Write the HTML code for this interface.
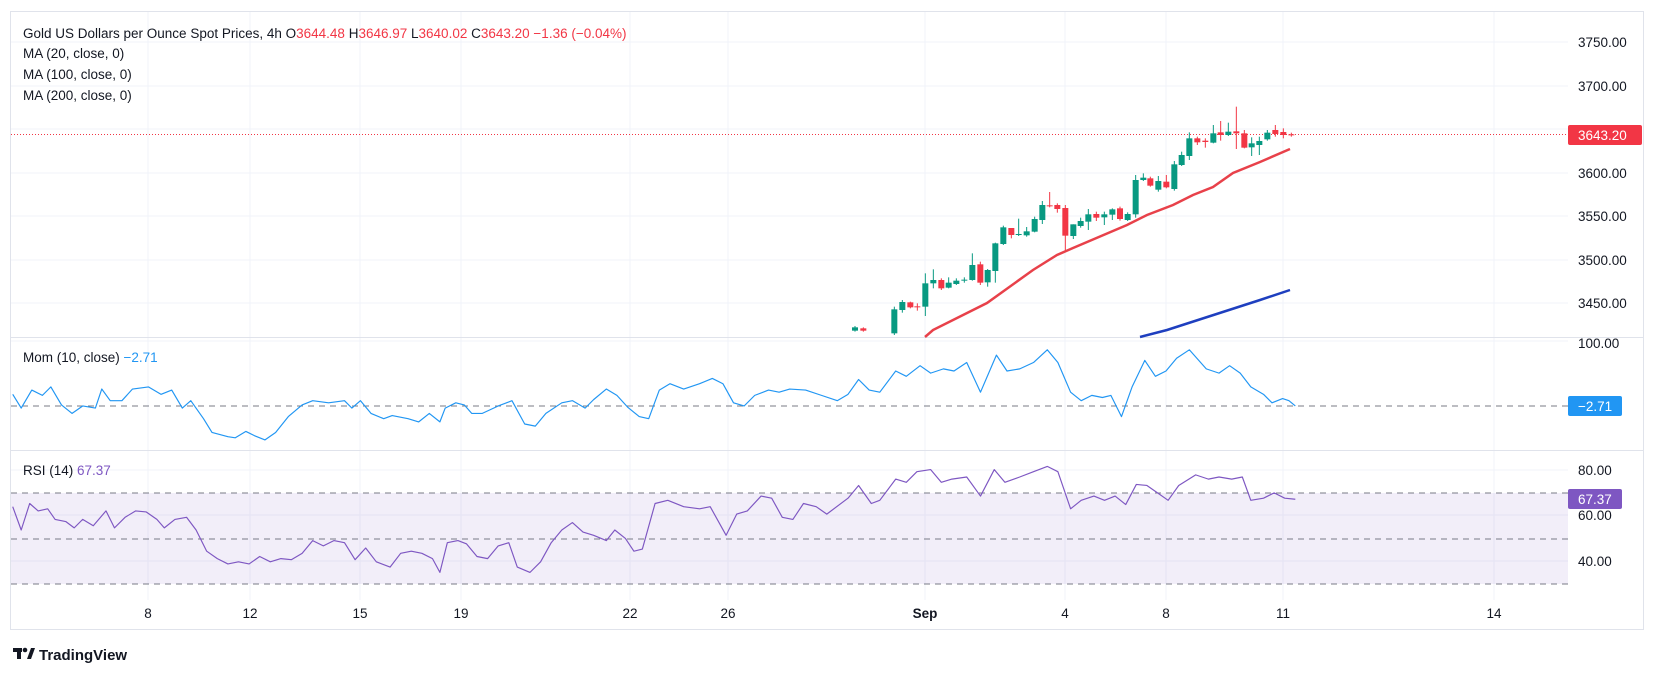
<!DOCTYPE html>
<html><head><meta charset="utf-8"><style>
html,body{margin:0;padding:0;background:#fff;width:1656px;height:674px;overflow:hidden}
svg{display:block;font-family:"Liberation Sans",sans-serif}
</style></head><body>
<svg id="s" width="1656" height="674" viewBox="0 0 1656 674">
<rect x="10.5" y="11.5" width="1633" height="618" fill="#fff" stroke="#e0e3eb"/>
<g stroke="#f0f3fa" stroke-width="1">
<line x1="11" x2="1568" y1="42" y2="42"/><line x1="11" x2="1568" y1="86" y2="86"/><line x1="11" x2="1568" y1="129" y2="129"/><line x1="11" x2="1568" y1="173" y2="173"/><line x1="11" x2="1568" y1="216" y2="216"/><line x1="11" x2="1568" y1="260" y2="260"/><line x1="11" x2="1568" y1="303" y2="303"/>
<line x1="11" x2="1568" y1="341" y2="341"/><line x1="11" x2="1568" y1="470" y2="470"/><line x1="11" x2="1568" y1="515" y2="515"/><line x1="11" x2="1568" y1="561" y2="561"/>
<g id="vg"></g>
</g>
<line x1="11" x2="1643" y1="337.5" y2="337.5" stroke="#e0e3eb"/>
<line x1="11" x2="1643" y1="450.5" y2="450.5" stroke="#e0e3eb"/>
<!-- RSI band -->
<rect x="11" y="493" width="1557" height="91" fill="#7e57c2" fill-opacity="0.1"/>
<g stroke="#787b86" stroke-dasharray="6,5" stroke-width="1">
<line x1="11" x2="1568" y1="493" y2="493"/><line x1="11" x2="1568" y1="539" y2="539"/><line x1="11" x2="1568" y1="584" y2="584"/>
<line x1="11" x2="1568" y1="406" y2="406"/>
</g>
<line x1="11" x2="1568" y1="134.5" y2="134.5" stroke="#f23645" stroke-dasharray="1,2" stroke-width="1"/>
<g id="candles"></g>
<polyline fill="none" stroke="#e8414a" stroke-width="2.5" points="925,337 933,330 987,303 1033,270 1057,255 1073,248 1127,225 1147,215 1173,205 1193,195 1213,187 1233,173 1260,162 1290,149"/>
<polyline fill="none" stroke="#1e3fbf" stroke-width="2.5" points="1140,337 1167,330 1260,300 1290,290"/>
<g transform="scale(1.06)" fill="none" stroke-linejoin="round">
<polyline id="mom" stroke="#2196f3" stroke-width="1.1" points=""/>
<polyline id="rsi" stroke="#7e57c2" stroke-width="1.1" points=""/>
</g>
<!-- clip main pane candles below bottom -->
<rect x="11" y="338" width="1557" height="0" fill="#fff"/>
<!-- text -->
<g font-size="13.5" fill="#131722">
<text x="23" y="38">Gold US Dollars per Ounce Spot Prices, 4h  <tspan>O</tspan><tspan fill="#f23645">3644.48</tspan>  H<tspan fill="#f23645">3646.97</tspan>  L<tspan fill="#f23645">3640.02</tspan>  C<tspan fill="#f23645">3643.20</tspan>  <tspan fill="#f23645">−1.36 (−0.04%)</tspan></text>
<text x="23" y="58">MA (20, close, 0)</text>
<text x="23" y="79">MA (100, close, 0)</text>
<text x="23" y="100">MA (200, close, 0)</text>
<text x="23" y="362">Mom (10, close)  <tspan fill="#2196f3">−2.71</tspan></text>
<text x="23" y="475">RSI (14)  <tspan fill="#7e57c2">67.37</tspan></text>
</g>
<g font-size="13.5" fill="#131722">
<text x="1578" y="47">3750.00</text><text x="1578" y="91">3700.00</text><text x="1578" y="178">3600.00</text><text x="1578" y="221">3550.00</text><text x="1578" y="265">3500.00</text><text x="1578" y="308">3450.00</text>
<text x="1578" y="348">100.00</text>
<text x="1578" y="475">80.00</text><text x="1578" y="520">60.00</text><text x="1578" y="566">40.00</text>
</g>
<rect x="1568" y="125" width="74" height="20" rx="2" fill="#f23645"/>
<text x="1578" y="140" font-size="13.5" fill="#fff">3643.20</text>
<rect x="1568" y="396" width="54" height="20" rx="2" fill="#2196f3"/>
<text x="1578" y="411" font-size="13.5" fill="#fff">−2.71</text>
<rect x="1568" y="489" width="54" height="20" rx="2" fill="#7e57c2"/>
<text x="1578" y="504" font-size="13.5" fill="#fff">67.37</text>
<g font-size="13.5" fill="#131722" text-anchor="middle">
<text x="148" y="618">8</text><text x="250" y="618">12</text><text x="360" y="618">15</text><text x="461" y="618">19</text><text x="630" y="618">22</text><text x="728" y="618">26</text><text x="925" y="618" font-weight="bold">Sep</text><text x="1065" y="618">4</text><text x="1166" y="618">8</text><text x="1283" y="618">11</text><text x="1494" y="618">14</text>
</g>
<g fill="#131722">
<rect x="13" y="648" width="9" height="4"/><rect x="17" y="648" width="4" height="11"/>
<circle cx="25" cy="650" r="2.3"/>
<polygon points="27,659 31,648 35,648 31,659"/>
<text x="39" y="660" font-size="15" font-weight="bold">TradingView</text>
</g>
</svg>
<script>
const NS="http://www.w3.org/2000/svg";
const vg=document.getElementById('vg');
[148,250,360,461,630,728,925,1065,1166,1283,1494].forEach(x=>{
 [[12,337],[338,450],[451,600]].forEach(r=>{const l=document.createElementNS(NS,'line');l.setAttribute('x1',x);l.setAttribute('x2',x);l.setAttribute('y1',r[0]);l.setAttribute('y2',r[1]);vg.appendChild(l);});
});
// candles in zoom coords: X, open, close (Y), wickTop, wickBot, green?
const C=[[165,712,722,708,725,1],[190,715,722,712,725,0],[283,658,730,650,735,1],[307,636,660,630,668,1],[331,637,652,635,655,0],[352,649,651,640,662,0],[376,580,650,550,678,1],[400,570,580,538,595,1],[424,570,595,565,600,0],[446,578,593,562,595,1],[469,572,582,565,585,1],[493,569,571,562,578,1],[517,525,570,490,572,1],[541,523,578,515,585,0],[563,540,577,537,590,1],[586,460,543,458,578,1],[610,412,462,407,465,1],[634,414,435,414,445,0],[656,432,434,386,438,1],[680,424,436,411,440,1],[704,387,425,380,427,1],[727,345,390,333,402,1],[749,346,348,306,352,0],[772,345,357,340,368,0],[796,354,437,345,485,0],[820,403,438,403,447,1],[842,393,408,383,413,1],[865,373,395,357,420,1],[889,372,383,365,393,0],[913,373,382,365,405,1],[937,358,374,355,390,1],[960,355,387,350,392,0],[983,372,390,367,393,1],[1007,270,373,255,383,1],[1030,263,270,250,273,1],[1051,265,287,260,290,0],[1075,273,299,258,305,1],[1099,275,292,255,295,0],[1123,223,297,213,302,1],[1145,195,225,185,228,1],[1168,145,198,127,210,1],[1192,145,157,140,165,0],[1216,152,156,145,173,0],[1240,130,158,105,160,1],[1262,127,135,93,152,0],[1285,125,135,98,138,1],[1309,124,130,50,177,0],[1333,130,173,120,175,0],[1355,160,172,142,198,1],[1378,153,165,140,195,1],[1402,128,148,120,152,1],[1426,120,132,105,140,0],[1450,126,135,115,145,0],[1474,133,136,128,140,0]];
const cg=document.getElementById('candles');
C.forEach(c=>{const x=800+c[0]/3;const col=c[5]?'#089981':'#f23645';
 const w=document.createElementNS(NS,'line');w.setAttribute('x1',x);w.setAttribute('x2',x);w.setAttribute('y1',Math.min(90+c[3]/3,337));w.setAttribute('y2',Math.min(90+c[4]/3,337));w.setAttribute('stroke',col);cg.appendChild(w);
 const r=document.createElementNS(NS,'rect');const y1=90+Math.min(c[1],c[2])/3,y2=Math.min(90+Math.max(c[1],c[2])/3,337);
 r.setAttribute('x',x-3);r.setAttribute('width',6);r.setAttribute('y',y1);r.setAttribute('height',Math.max(1,y2-y1));r.setAttribute('fill',col);cg.appendChild(r);});
const mom="12,372 20,385 30,368 40,373 48,365 58,382 68,390 78,383 90,385 96,367 104,378 115,378 125,367 140,365 152,372 162,368 172,385 180,378 192,395 200,408 215,412 222,413 232,407 240,411 250,415 260,408 272,393 285,382 295,378 310,380 325,378 332,385 340,378 350,390 362,395 370,392 385,395 395,398 405,390 415,398 420,385 430,380 438,382 445,390 455,390 470,383 483,378 495,400 505,402 515,390 530,380 540,378 552,385 560,377 572,367 582,373 592,384 603,393 612,395 622,368 632,362 645,367 660,362 672,357 682,362 692,380 702,383 712,373 725,368 735,370 745,367 760,368 775,373 790,378 800,372 810,358 820,368 830,370 845,350 855,355 868,345 878,352 890,348 900,350 912,342 925,370 940,335 950,350 962,348 975,342 988,330 998,342 1010,370 1020,378 1030,373 1040,375 1048,373 1058,393 1068,365 1080,340 1090,355 1100,350 1110,338 1122,330 1138,348 1150,352 1160,345 1170,352 1180,365 1192,372 1200,380 1210,376 1216,378 1222,383";
const rsi="12,478 20,500 28,475 36,482 45,480 52,490 62,492 70,498 78,490 88,496 100,482 108,498 118,488 128,482 138,483 148,490 155,498 165,490 176,488 185,500 195,520 205,527 215,532 225,530 235,532 245,525 255,530 265,527 275,528 285,522 295,510 305,515 315,510 325,512 335,528 345,517 355,530 368,535 378,522 388,520 398,522 408,527 415,540 422,512 432,510 440,513 450,525 460,527 470,515 480,512 488,535 500,540 510,530 520,512 530,500 540,493 550,502 560,505 572,510 580,500 590,508 598,520 606,518 618,475 630,472 645,478 660,480 670,478 685,505 695,485 705,482 718,468 728,470 738,488 748,490 758,475 770,478 780,485 800,470 810,458 822,475 830,472 845,452 855,455 865,445 878,443 888,455 898,452 912,450 925,468 938,443 948,455 962,450 975,445 988,440 998,445 1010,480 1020,472 1032,468 1042,472 1052,468 1062,476 1072,457 1082,458 1092,465 1102,472 1112,458 1128,448 1140,452 1150,450 1162,452 1172,450 1180,472 1192,470 1202,465 1212,470 1222,471";
document.getElementById('mom').setAttribute('points',mom);
document.getElementById('rsi').setAttribute('points',rsi);
</script>
</body></html>
